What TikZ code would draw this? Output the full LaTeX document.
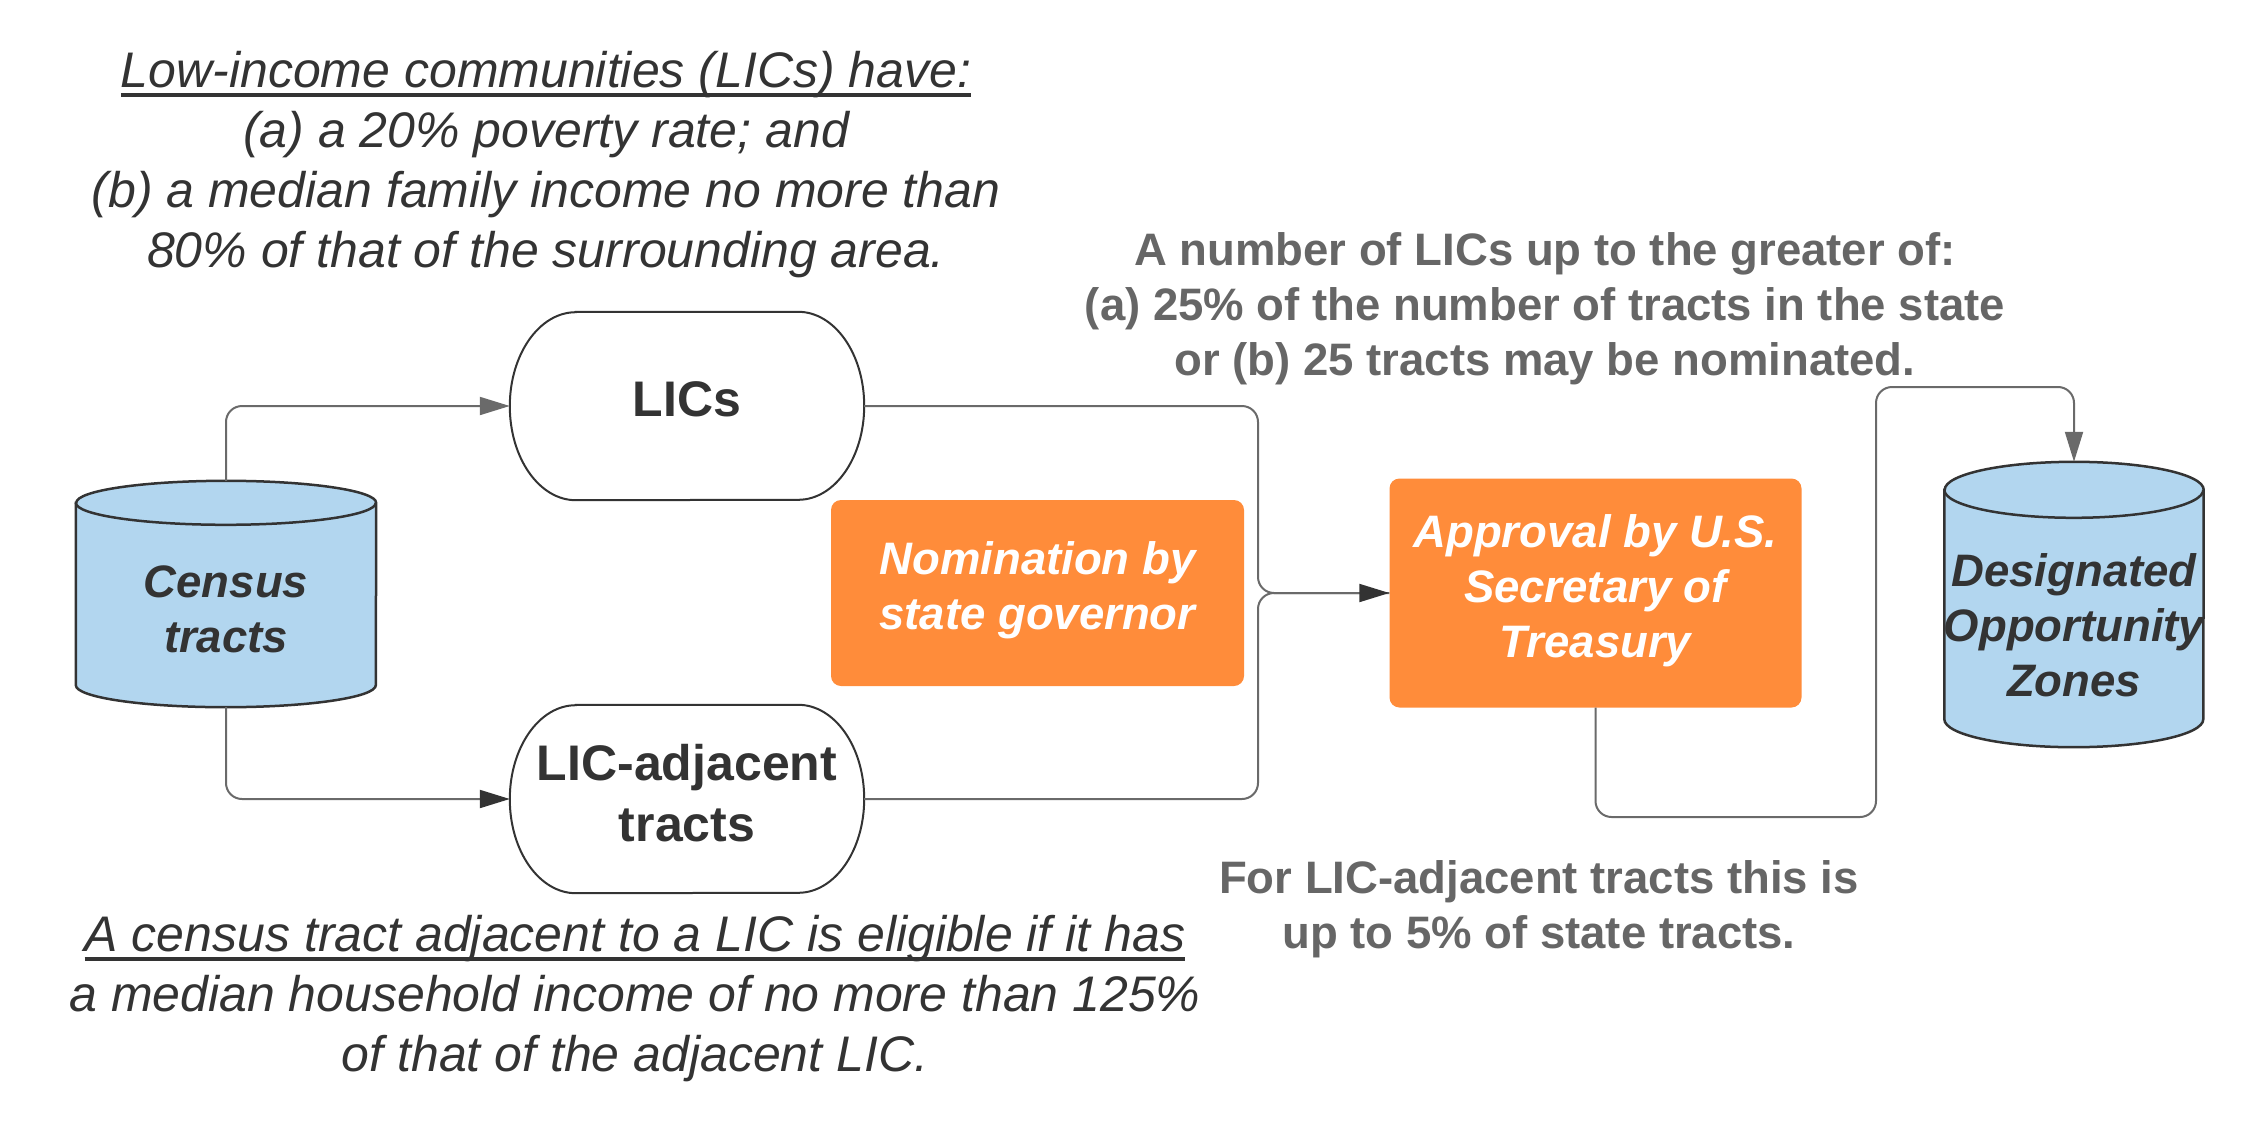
\documentclass[tikz,border=0pt]{standalone}
\usepackage{fontspec}
\setmainfont{Liberation Sans}
\usetikzlibrary{arrows.meta}
\definecolor{txt}{HTML}{333333}
\definecolor{gtxt}{HTML}{666666}
\definecolor{lnc}{HTML}{6A6A6A}
\definecolor{cylblue}{HTML}{B2D6EF}
\definecolor{lorange}{HTML}{FF8C3A}
\newsavebox\myulbox
\newcommand\myul[1]{\leavevmode\sbox\myulbox{#1}\rlap{\rule[-9pt]{\wd\myulbox}{3.5pt}}\usebox\myulbox}
\newcommand\drawcyl[3]{%
  \filldraw[fill=cylblue, draw=txt, line width=2.5pt]
    ([yshift=-#3]#1.north west) -- ([yshift=#3]#1.south west)
    arc[start angle=180, end angle=360, x radius=#2, y radius=#3]
    -- ([yshift=-#3]#1.north east)
    arc[start angle=0, end angle=180, x radius=#2, y radius=#3] -- cycle;
  \draw[draw=txt, line width=2.5pt] ([yshift=-#3]#1.north west)
    arc[start angle=180, end angle=360, x radius=#2, y radius=#3];}
\newcommand\drawstad[1]{%
  \draw[draw=txt, line width=2pt]
    ([xshift=66pt]#1.north west) -- ([xshift=-66pt]#1.north east)
    arc[start angle=90, end angle=-90, x radius=66pt, y radius=94pt]
    -- ([xshift=66pt]#1.south west)
    arc[start angle=270, end angle=90, x radius=66pt, y radius=94pt] -- cycle;}
\tikzset{
  lictext/.style={font=\fontsize{50pt}{61pt}\selectfont\bfseries, align=center, text=txt, inner sep=0pt},
  cyltext/.style={font=\fontsize{45.5pt}{55pt}\selectfont\bfseries\itshape, align=center, text=txt, inner sep=0pt},
  obox/.style={fill=lorange, rounded corners=10pt, inner sep=0pt},
  otext/.style={text=white, font=\fontsize{45.5pt}{55pt}\selectfont\bfseries\itshape, align=center, inner sep=0pt},
  ittext/.style={font=\fontsize{50pt}{60pt}\selectfont\itshape, align=center, text=txt},
  gtext/.style={font=\fontsize{45.5pt}{55pt}\selectfont\bfseries, align=center, text=gtxt},
  conn/.style={draw=lnc, line width=2pt, rounded corners=16pt},
  tipg/.style={-{Triangle[length=30pt,width=18pt,color=lnc]}},
  tipd/.style={-{Triangle[length=30pt,width=18pt,color=txt]}}
}
\begin{document}
\begin{tikzpicture}[x=1pt,y=-1pt]
\useasboundingbox (0,0) rectangle (2252,1135);

% cylinders
\node[inner sep=0pt, minimum width=300pt, minimum height=226pt] (census) at (226,594) {};
\drawcyl{census}{150pt}{22pt}
\node[cyltext] (censustext) at ([yshift=-15pt]census.center) {Census\\tracts};

\node[inner sep=0pt, minimum width=259pt, minimum height=285pt] (desig) at (2074,604.5) {};
\drawcyl{desig}{129.5pt}{28pt}
\node[cyltext] (desigtext) at ([yshift=-21pt]desig.center) {Designated\\Opportunity\\Zones};

% stadium nodes
\node[inner sep=0pt, minimum width=354pt, minimum height=188pt] (lics) at (687,406) {};
\drawstad{lics}
\node[lictext] (licstext) at ([yshift=7pt]lics.center) {LICs};
\node[inner sep=0pt, minimum width=354pt, minimum height=188pt] (lica) at (687,799) {};
\drawstad{lica}
\node[lictext] (licatext) at ([yshift=6pt]lica.center) {LIC-adjacent\\tracts};

% orange boxes
\node[obox, minimum width=413pt, minimum height=186pt] (nom) at (1037.5,593) {};
\node[otext] (nomtext) at ([yshift=3pt]nom.center) {Nomination by\\state governor};
\node[obox, minimum width=412pt, minimum height=229pt] (appr) at (1595.5,593) {};
\node[otext] (apprtext) at ([yshift=2pt]appr.center) {Approval by U.S.\\Secretary of\\Treasury};

% connectors
\coordinate (merge) at (1258,593);
\coordinate (r1) at (1876,817);
\coordinate (r2) at (1876,387);
\draw[conn, tipg] (census.north) |- (lics.west);
\draw[conn, tipd] (census.south) |- (lica.west);
\draw[conn] (lics.east) -| (merge) -- (appr.west);
\draw[conn, tipd] (lica.east) -| (merge) -- (appr.west);
\draw[conn, tipg] (appr.south) |- (r1) -- (r2) -| (desig.north);

% texts
\node[ittext] (tl) at (546,165) {\myul{Low-income communities (LICs) have:}\\(a) a 20\% poverty rate; and\\(b) a median family income no more than\\80\% of that of the surrounding area.};
\node[gtext] (tr) at (1545,309) {A number of LICs up to the greater of:\\(a) 25\% of the number of tracts in the state\\or (b) 25 tracts may be nominated.};
\node[gtext] (br) at (1539,909) {For LIC-adjacent tracts this is\\up to 5\% of state tracts.};
\node[ittext] (bl) at (635,999) {\myul{A census tract adjacent to a LIC is eligible if it has}\\a median household income of no more than 125\%\\of that of the adjacent LIC.};
\end{tikzpicture}
\end{document}
